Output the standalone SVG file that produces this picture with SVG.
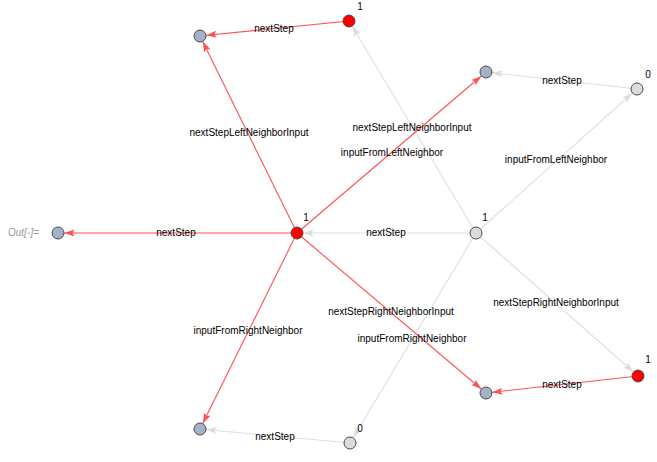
<svg xmlns="http://www.w3.org/2000/svg" width="657" height="462" viewBox="0 0 657 462">
<style>
text{font-family:"Liberation Sans",Arial,sans-serif;font-size:10px;fill:#000}
.lbl{text-anchor:middle;dominant-baseline:central}
.r{stroke:#ff5050;stroke-width:1.1;fill:none}
.g{stroke:#dedede;stroke-width:1.1;fill:none}
.nb{fill:#a3b1c9;stroke:#4a4a4a;stroke-width:1}
.nr{fill:#ff0000;stroke:#4a4a4a;stroke-width:1}
.ng{fill:#dcdcdc;stroke:#4a4a4a;stroke-width:1}
</style>
<defs>
<marker id="ar" markerUnits="userSpaceOnUse" markerWidth="20" markerHeight="10" refX="16.5" refY="3.5" orient="auto"><path d="M0,0 L10,3.5 L0,7 L2,3.5 z" fill="#ff5050"/></marker>
<marker id="ag" markerUnits="userSpaceOnUse" markerWidth="20" markerHeight="10" refX="16.5" refY="3.5" orient="auto"><path d="M0,0 L10,3.5 L0,7 L2,3.5 z" fill="#dcdcdc"/></marker>
</defs>
<text x="8" y="236" style="font-style:italic;fill:#999">Out[◦]=</text>
<g id="connectors">
<line class="g" x1="476" y1="233" x2="297" y2="233" marker-end="url(#ag)"/>
<line class="g" x1="476" y1="233" x2="349" y2="21" marker-end="url(#ag)"/>
<line class="g" x1="476" y1="233" x2="637" y2="89" marker-end="url(#ag)"/>
<line class="g" x1="476" y1="233" x2="638" y2="376" marker-end="url(#ag)"/>
<line class="g" x1="476" y1="233" x2="350" y2="443" marker-end="url(#ag)"/>
<line class="g" x1="637" y1="89" x2="486" y2="72" marker-end="url(#ag)"/>
<line class="g" x1="350" y1="443" x2="200" y2="429" marker-end="url(#ag)"/>
<line class="r" x1="297" y1="233" x2="58" y2="233" marker-end="url(#ar)"/>
<line class="r" x1="297" y1="233" x2="200" y2="36" marker-end="url(#ar)"/>
<line class="r" x1="297" y1="233" x2="486" y2="72" marker-end="url(#ar)"/>
<line class="r" x1="297" y1="233" x2="200" y2="429" marker-end="url(#ar)"/>
<line class="r" x1="297" y1="233" x2="486" y2="393" marker-end="url(#ar)"/>
<line class="r" x1="349" y1="21" x2="200" y2="36" marker-end="url(#ar)"/>
<line class="r" x1="638" y1="376" x2="486" y2="393" marker-end="url(#ar)"/>
<text class="lbl" x="176" y="232">nextStep</text>
<text class="lbl" x="249" y="132">nextStepLeftNeighborInput</text>
<text class="lbl" x="392" y="152">inputFromLeftNeighbor</text>
<text class="lbl" x="248" y="330">inputFromRightNeighbor</text>
<text class="lbl" x="391" y="311">nextStepRightNeighborInput</text>
<text class="lbl" x="274" y="28">nextStep</text>
<text class="lbl" x="562" y="384">nextStep</text>
<text class="lbl" x="386" y="232">nextStep</text>
<text class="lbl" x="412" y="127">nextStepLeftNeighborInput</text>
<text class="lbl" x="556" y="159">inputFromLeftNeighbor</text>
<text class="lbl" x="556" y="302">nextStepRightNeighborInput</text>
<text class="lbl" x="412" y="338">inputFromRightNeighbor</text>
<text class="lbl" x="562" y="80">nextStep</text>
<text class="lbl" x="275" y="436">nextStep</text>
</g>
<g id="nA"><circle class="nr" cx="297" cy="233" r="6"/><text class="lbl" x="306" y="217">1</text></g>
<g id="nB"><circle class="ng" cx="476" cy="233" r="6"/><text class="lbl" x="485" y="217">1</text></g>
<g id="nC"><circle class="nr" cx="349" cy="21" r="6"/><text class="lbl" x="360" y="6">1</text></g>
<g id="nD"><circle class="nb" cx="200" cy="36" r="6"/></g>
<g id="nE"><circle class="nb" cx="486" cy="72" r="6"/></g>
<g id="nF"><circle class="ng" cx="637" cy="89" r="6"/><text class="lbl" x="648" y="74">0</text></g>
<g id="nG"><circle class="nb" cx="58" cy="233" r="6"/></g>
<g id="nH"><circle class="nb" cx="200" cy="429" r="6"/></g>
<g id="nI"><circle class="ng" cx="350" cy="443" r="6"/><text class="lbl" x="360" y="428">0</text></g>
<g id="nJ"><circle class="nb" cx="486" cy="393" r="6"/></g>
<g id="nK"><circle class="nr" cx="638" cy="376" r="6"/><text class="lbl" x="648" y="359">1</text></g>
</svg>
